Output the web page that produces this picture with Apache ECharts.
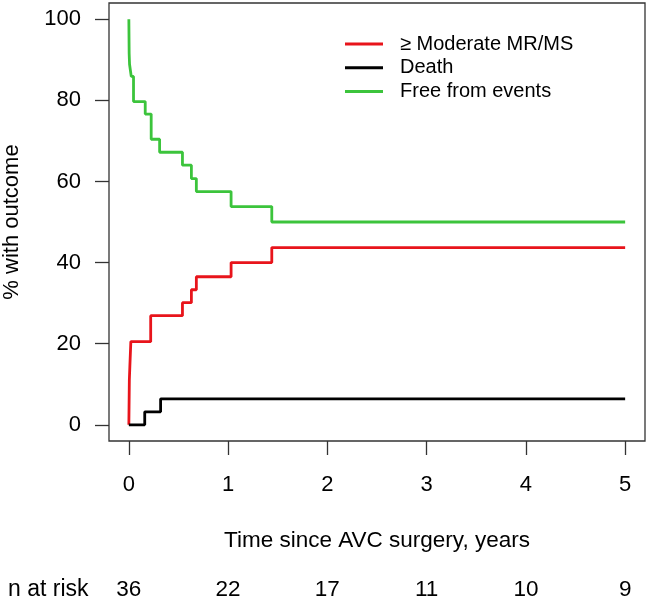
<!DOCTYPE html>
<html>
<head>
<meta charset="utf-8">
<script src="https://cdn.jsdelivr.net/npm/echarts@6/dist/echarts.min.js"></script>
<style>
  html, body { margin: 0; padding: 0; background: #fff; }
  #main { width: 650px; height: 599px; }
</style>
</head>
<body>
<div id="main"></div>
<script>
// cumulative incidence / event-free curves
var seriesNames = ['\u2265 Moderate MR/MS', 'Death', 'Free from events'];

var mrTime  = [0, 0.005, 0.01, 0.02, 0.22, 0.54, 0.63, 0.68, 1.03, 1.44, 5];
var mrValue = [0, 11.1, 14.3, 20.5, 26.9, 30.1, 33.3, 36.5, 40.0, 43.7, 43.7];

var deathTime  = [0, 0.16, 0.32, 5];
var deathValue = [0, 3.2, 6.4, 6.4];

var freeTime  = [0, 0.003, 0.007, 0.024, 0.047, 0.165, 0.225, 0.31, 0.54, 0.63, 0.68, 1.03, 1.44, 5];
var freeValue = [100, 91.6, 88.9, 85.9, 79.7, 76.6, 70.4, 67.2, 64.0, 60.7, 57.5, 53.8, 50.0, 50.0];

var xTicks = [0, 1, 2, 3, 4, 5];
var yTicks = [0, 20, 40, 60, 80, 100];
var nAtRisk = [36, 22, 17, 11, 10, 9];

var FONT = 'Liberation Sans';

function pairs(t, v) {
    var res = [];
    for (var i = 0; i < t.length; i++) {
        res.push([t[i], v[i]]);
    }
    return res;
}

var myChart = echarts.init(document.getElementById('main'));

var option = {
    animation: false,
    backgroundColor: '#fff',
    textStyle: { fontFamily: FONT, color: '#000' },
    grid: {
        left: 109,
        top: 3,
        right: 5,
        bottom: 158,
        containLabel: false,
        outerBoundsMode: 'none',
        show: true,
        borderColor: '#333',
        borderWidth: 1.3,
        backgroundColor: 'transparent'
    },
    legend: {
        orient: 'vertical',
        left: 345,
        top: 34,
        padding: 0,
        itemWidth: 38,
        itemHeight: 3,
        itemGap: 3.8,
        icon: 'rect',
        textStyle: { fontFamily: FONT, fontSize: 20, color: '#000', lineHeight: 20, padding: [0, 0, 0, 12] },
        data: seriesNames
    },
    xAxis: [
        {
            type: 'value',
            min: -0.2,
            max: 5.2,
            position: 'bottom',
            splitLine: { show: false },
            axisLine: { show: false, onZero: false },
            axisTick: { show: true, length: 14, inside: false, customValues: xTicks, lineStyle: { color: '#333', width: 1.3 } },
            axisLabel: { customValues: xTicks, margin: 33, fontSize: 22, color: '#000', fontFamily: FONT },
            name: 'Time since AVC surgery, years',
            nameLocation: 'middle',
            nameGap: 88,
            nameTextStyle: { fontSize: 22.5, color: '#000', fontFamily: FONT }
        },
        {
            // n at risk row, placed under the tick positions
            type: 'value',
            min: -0.2,
            max: 5.2,
            position: 'bottom',
            splitLine: { show: false },
            axisLine: { show: false, onZero: false },
            axisTick: { show: false },
            axisLabel: {
                customValues: xTicks,
                margin: 137,
                fontSize: 22.5,
                color: '#000',
                fontFamily: FONT,
                formatter: function (v) {
                    return nAtRisk[xTicks.indexOf(Math.round(v))];
                }
            }
        }
    ],
    yAxis: {
        type: 'value',
        min: -4,
        max: 104,
        splitLine: { show: false },
        axisLine: { show: false, onZero: false },
        axisTick: { show: true, length: 14, inside: false, customValues: yTicks, lineStyle: { color: '#333', width: 1.3 } },
        axisLabel: { customValues: yTicks, margin: 28, fontSize: 22, color: '#000', fontFamily: FONT },
        name: '% with outcome',
        nameLocation: 'middle',
        nameGap: 86,
        nameTextStyle: { fontSize: 22, color: '#000', fontFamily: FONT }
    },
    graphic: [
        {
            type: 'text',
            left: 8,
            top: 578,
            style: { text: 'n at risk', fontSize: 23, fill: '#000', fontFamily: FONT }
        }
    ],
    series: [
        {
            name: seriesNames[0],
            type: 'line',
            step: 'end',
            symbol: 'none',
            data: pairs(mrTime, mrValue),
            itemStyle: { color: '#e8141b' },
            lineStyle: { color: '#e8141b', width: 2.8 }
        },
        {
            name: seriesNames[1],
            type: 'line',
            step: 'end',
            symbol: 'none',
            data: pairs(deathTime, deathValue),
            itemStyle: { color: '#000' },
            lineStyle: { color: '#000', width: 2.8 }
        },
        {
            name: seriesNames[2],
            type: 'line',
            step: 'end',
            symbol: 'none',
            data: pairs(freeTime, freeValue),
            itemStyle: { color: '#3cc43c' },
            lineStyle: { color: '#3cc43c', width: 2.8 }
        }
    ]
};

myChart.setOption(option);
</script>
</body>
</html>
